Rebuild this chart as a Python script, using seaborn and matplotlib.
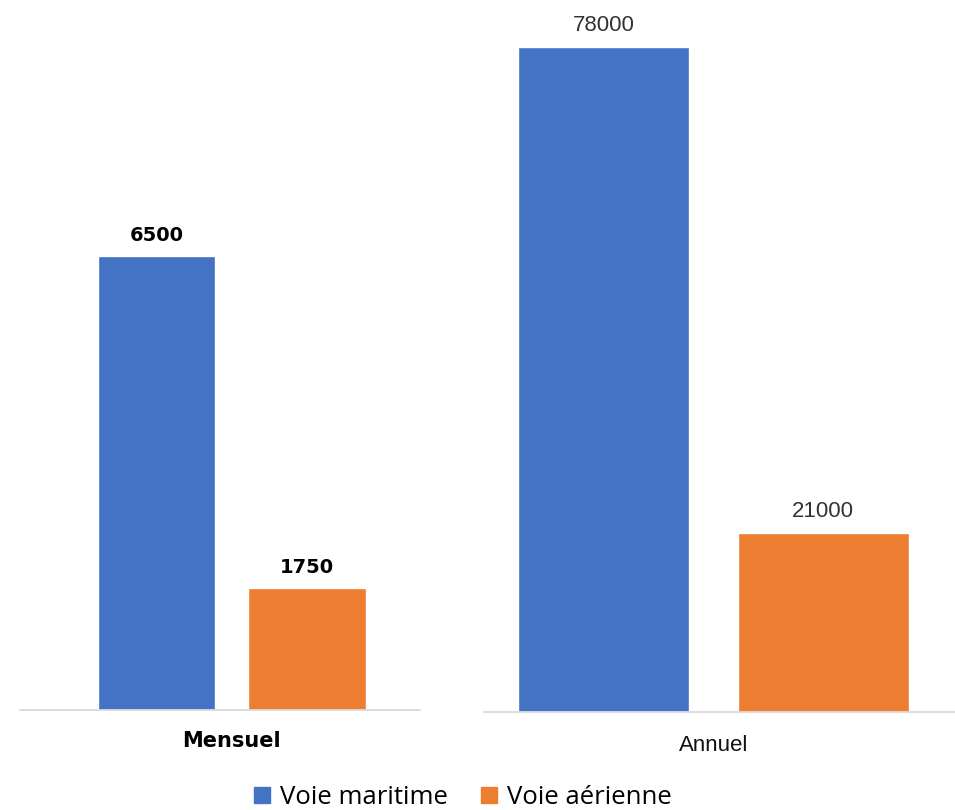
import matplotlib
matplotlib.use("Agg")
import matplotlib.pyplot as plt
import matplotlib.transforms as mtrans
from matplotlib.lines import Line2D
import seaborn as sns

# Data
series = ["Voie maritime", "Voie aérienne"]
mensuel = [6500, 1750]
annuel = [78000, 21000]
colors = ["#4472C4", "#ED7D31"]

sns.set_style("white")
fig = plt.figure(figsize=(9.55, 8.1), dpi=100)
W, H = 955, 810


def add_panel(left, right, base, top, xlim, ymax, values, label, val_kw, lab_kw):
    ax = fig.add_axes([left / W, (H - base) / H, (right - left) / W, (base - top) / H])
    sns.barplot(x=series, y=values, hue=series, palette=colors, width=0.78,
                legend=False, ax=ax, saturation=1)
    ax.set_xlim(*xlim)
    ax.set_ylim(0, ymax)
    ax.set_xticks([])
    ax.set_yticks([])
    ax.set_xlabel("")
    ax.set_ylabel("")
    for s in ["top", "left", "right"]:
        ax.spines[s].set_visible(False)
    ax.spines["bottom"].set_color("#d9d9d9")
    ax.spines["bottom"].set_linewidth(1.3)
    for i, v in enumerate(values):
        ax.annotate(str(v), (i, v), xytext=(0, 8), textcoords="offset points",
                    ha="center", va="bottom", **val_kw)
    trans = mtrans.blended_transform_factory(ax.transData, ax.transAxes)
    ax.text(0.5, 0, label, transform=trans, ha="center", va="top", **lab_kw)
    return ax


# Mensuel
add_panel(20, 420, 710, 0, (-0.907, 1.75), 710 / 0.0698, mensuel, "Mensuel",
          dict(fontsize=14, fontweight="bold", color="black", family="DejaVu Sans"),
          dict(fontsize=15, fontweight="bold", color="black", family="DejaVu Sans"))
fig.axes[0].texts[-1].set_position((0.5, -0.03))

# Annuel
add_panel(484, 955, 712, 0, (-0.544, 1.60), 712 / 0.00853, annuel, "Annuel",
          dict(fontsize=16, color="#333333", family=["Liberation Sans", "DejaVu Sans"]),
          dict(fontsize=16, color="#111111", family=["Liberation Sans", "DejaVu Sans"]))
fig.axes[1].texts[-1].set_position((0.5, -0.033))

handles = [Line2D([], [], marker="s", linestyle="", markersize=12,
                  markerfacecolor=c, markeredgecolor=c) for c in colors]
leg = fig.legend(handles, series, loc="center", bbox_to_anchor=(0.483, 1 - 797 / H),
                 ncol=2, frameon=False, handletextpad=0.3, handlelength=0.8,
                 columnspacing=1.2, prop={"family": "Open Sans", "size": 18.5, "weight": "medium"})
for t in leg.get_texts():
    t.set_color("black")

fig.savefig("out.png", dpi=100)
